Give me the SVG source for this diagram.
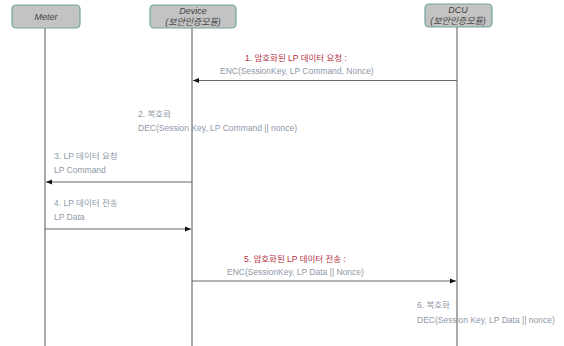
<svg xmlns="http://www.w3.org/2000/svg" width="564" height="346" viewBox="0 0 564 346">
<style>
.box{fill:#c3c3c3;stroke:#6fa3a0;stroke-width:1.2}
.bt{font-family:"Liberation Sans","Noto Sans CJK KR",sans-serif;font-size:9px;font-style:italic;fill:#444;text-anchor:middle}
.life{stroke:#555;stroke-width:1}
.msg{stroke:#666;stroke-width:1;fill:none}
.t{font-family:"Liberation Sans","Noto Sans CJK KR",sans-serif;font-size:8.5px;fill:#8d98a8}
.r{font-family:"Liberation Sans","Noto Sans CJK KR",sans-serif;font-size:8.5px;fill:#b5303f}
</style>
<defs>
<marker id="ah" viewBox="0 0 10 10" refX="10" refY="5" markerWidth="6" markerHeight="6" orient="auto-start-reverse" markerUnits="userSpaceOnUse">
<path d="M0,1 L10,5 L0,9 z" fill="#111"/>
</marker>
</defs>
<rect width="564" height="346" fill="#fff"/>
<g id="lifelines">
<line class="life" x1="45" y1="28" x2="45" y2="346"/>
<line class="life" x1="192" y1="28" x2="192" y2="346"/>
<line class="life" x1="457" y1="27" x2="457" y2="346"/>
</g>
<g id="meter">
<rect class="box" x="12" y="5" width="68" height="23" rx="4"/>
<text class="bt" x="46" y="19.5">Meter</text>
</g>
<g id="device">
<rect class="box" x="150" y="5" width="86" height="23" rx="4"/>
<text class="bt" x="193" y="14">Device</text>
<text class="bt" x="193" y="25">(보안인증모듈)</text>
</g>
<g id="dcu">
<rect class="box" x="425" y="4" width="67" height="23" rx="4"/>
<text class="bt" x="458" y="13">DCU</text>
<text class="bt" x="458" y="24">(보안인증모듈)</text>
</g>
<g id="connectors">
<line class="msg" x1="457" y1="80.5" x2="193" y2="80.5" marker-end="url(#ah)"/>
<line class="msg" x1="192" y1="182" x2="46" y2="182" marker-end="url(#ah)"/>
<line class="msg" x1="45" y1="229" x2="191" y2="229" marker-end="url(#ah)"/>
<line class="msg" x1="192" y1="281" x2="456" y2="281" marker-end="url(#ah)"/>
</g>
<g id="labels">
<text class="r" x="245" y="61">1. 암호화된 LP 데이터 요청 :</text>
<text class="t" x="220" y="74">ENC(SessionKey, LP Command, Nonce)</text>
<text class="t" x="138" y="117">2. 복호화</text>
<text class="t" x="138" y="131">DEC(Session Key, LP Command || nonce)</text>
<text class="t" x="54" y="159">3. LP 데이터 요청</text>
<text class="t" x="54" y="173">LP Command</text>
<text class="t" x="54" y="206">4. LP 데이터 전송</text>
<text class="t" x="54" y="220">LP Data</text>
<text class="r" x="244" y="262">5. 암호화된 LP 데이터 전송 :</text>
<text class="t" x="227" y="275">ENC(SessionKey, LP Data || Nonce)</text>
<text class="t" x="417" y="308">6. 복호화</text>
<text class="t" x="417" y="323">DEC(Session Key, LP Data || nonce)</text>
</g>
</svg>
